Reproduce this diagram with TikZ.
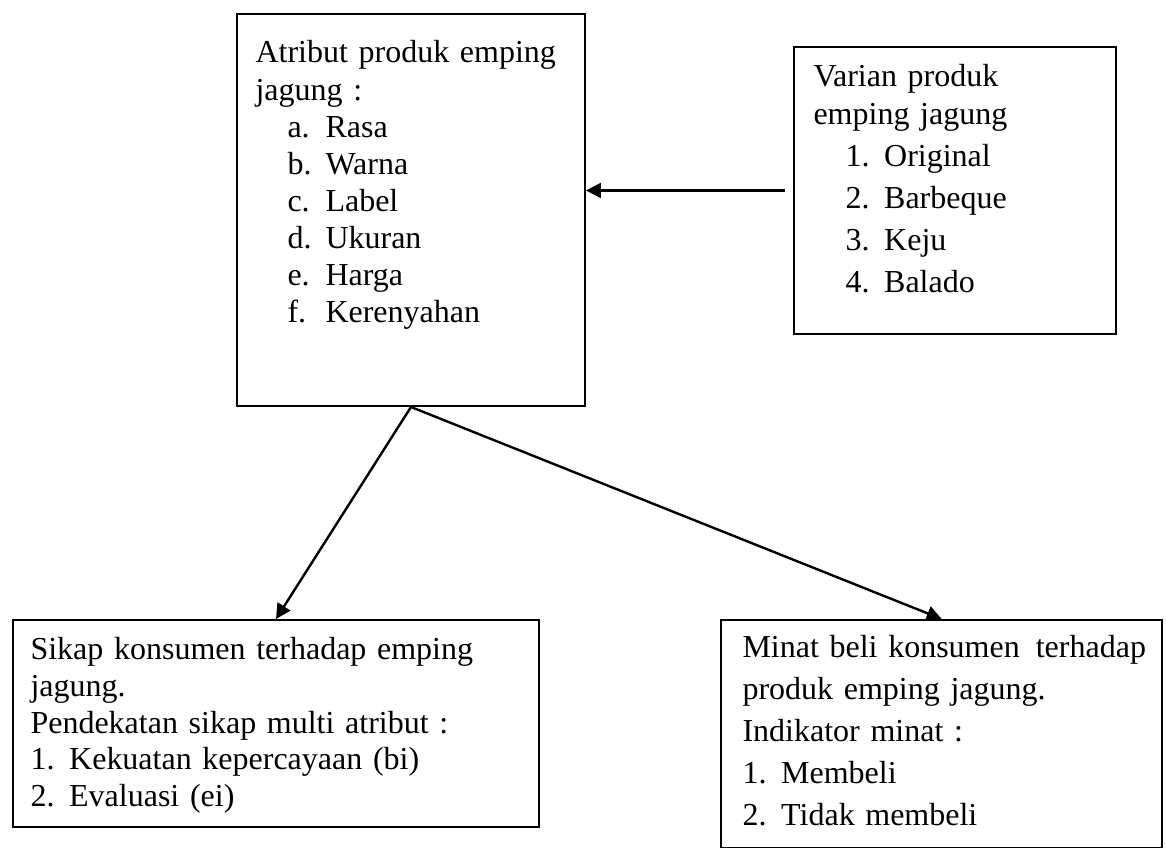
\documentclass[tikz,border=0pt]{standalone}
\usepackage{fontspec}
\setmainfont{Liberation Serif}
\usepackage{tikz}
\usetikzlibrary{arrows.meta}

\newcommand{\itemA}[2]{\hspace*{12pt}\makebox[14.25pt][l]{#1}#2}
\newcommand{\itemV}[2]{\hspace*{12pt}\makebox[14.5pt][l]{#1}#2}
\newcommand{\itemN}[2]{\makebox[14.5pt][l]{#1}#2}

\begin{document}
\begin{tikzpicture}[x=0.375pt,y=-0.375pt,
	frame/.style={draw,line width=0.75pt,inner sep=0pt,anchor=north west},
	txt/.style={anchor=base west,inner sep=0pt,align=left,text width=#1}]
		\useasboundingbox (0,0) rectangle (1166,848);
		%
		\node[frame,minimum width=130.5pt,minimum height=147pt] (atr) at (236,13) {};
		\node[frame,minimum width=120.75pt,minimum height=107.6pt] (var) at (793,46) {};
		\node[frame,minimum width=197.25pt,minimum height=77.6pt] (sik) at (12,619) {};
		\node[frame,minimum width=165.5pt,minimum height=85.5pt] (mnt) at (720,619) {};
		%
		\node[txt=125pt,font=\fontsize{12pt}{13.9pt}\selectfont] (atr-t) at (255,63)
			{Atribut produk emping\\ jagung :\\ \itemA{a.}{Rasa}\\ \itemA{b.}{Warna}\\
			\itemA{c.}{Label}\\ \itemA{d.}{Ukuran}\\ \itemA{e.}{Harga}\\ \itemA{f.}{Kerenyahan}};
		\node[txt=110pt,font=\fontsize{12pt}{15.75pt}\selectfont] (var-t) at (813,87)
			{Varian produk\\[-1.5pt] emping jagung\\ \itemV{1.}{Original}\\ \itemV{2.}{Barbeque}\\
			\itemV{3.}{Keju}\\ \itemV{4.}{Balado}};
		\node[txt=190pt,font=\fontsize{12pt}{13.7pt}\selectfont] (sik-t) at (30,660)
			{Sikap konsumen terhadap emping\\ jagung.\\ Pendekatan sikap multi atribut :\\
			\itemN{1.}{Kekuatan kepercayaan (bi)}\\ \itemN{2.}{Evaluasi (ei)}};
		\node[txt=160pt,font=\fontsize{12pt}{15.75pt}\selectfont] (mnt-t) at (742,658)
			{Minat beli konsumen\kern2pt{} terhadap\\ produk emping jagung.\\ Indikator minat :\\
			\itemN{1.}{Membeli}\\ \itemN{2.}{Tidak membeli}};
		%
		\path[-{Triangle[length=5.6pt,width=5.6pt]},line width=0.9pt]
			(var.west) edge[shorten <=3pt] (atr.east |- var.west)
			(atr.south) edge (sik.north)
			(atr.south) edge (mnt.north);
	\end{tikzpicture}
\end{document}
